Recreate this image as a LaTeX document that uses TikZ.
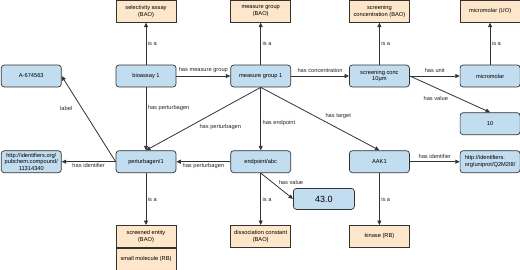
\documentclass[tikz,border=0pt]{standalone}
\usepackage{fontspec}
\setmainfont{Liberation Sans}
\usetikzlibrary{positioning,arrows.meta,calc}
\definecolor{azul}{HTML}{C2DDF0}
\definecolor{crema}{HTML}{FDE6C9}
\definecolor{borde}{HTML}{333333}

\begin{document}
\begin{tikzpicture}[x=1pt, y=1pt,
  font=\fontsize{5.7}{6.6}\selectfont,
  bloque/.style={draw=borde, fill=azul, rectangle, rounded corners=3pt,
    align=center, minimum width=60pt, minimum height=22pt, inner sep=1.5pt,
    line width=0.7pt},
  clase/.style={draw=borde, fill=crema, rectangle, align=center,
    minimum width=60pt, minimum height=22pt, inner sep=1.5pt, line width=0.7pt},
  flujo/.style={-{Triangle[length=4.5pt, width=4pt]}, draw=borde,
    line width=0.8pt},
  etiq/.style={inner sep=1.5pt, text=black!85}]
\useasboundingbox (0,0) rectangle (520,269);
% Fila superior de instancias
\node[bloque] (bio) at (146,193) {bioassay 1};
\node[bloque, left=54pt of bio] (A) {A-674563};
\node[bloque, right=54pt of bio] (mg) {measure group 1};
\node[bloque, right=58pt of mg] (conc) {screening conc\\10µm};
\node[bloque, right=50pt of conc] (micro) {micromolar};
\node[bloque, below=25pt of micro] (ten) {10};
% Clases (tipos) arriba
\node[clase, above=42pt of bio] (sel) {selectivity assay\\(BAO)};
\node[clase, above=42pt of mg] (mgc) {measure group\\(BAO)};
\node[clase, above=42pt of conc] (concc) {screening\\concentration (BAO)};
\node[clase, above=42pt of micro] (microc) {micromolar (UO)};
% Fila inferior de instancias
\node[bloque, below=63pt of bio] (pert) {perturbagen/1};
\node[bloque, left=54pt of pert] (pub)
  {http://identifiers.org/\\pubchem.compound/\\11314340};
\node[bloque, right=54pt of pert] (endp) {endpoint/abc};
\node[bloque, right=58pt of endp] (aak) {AAK1};
\node[bloque, right=50pt of aak, align=left] (uni)
  {http://identifiers.\\org/uniprot/Q2M2I8/};
\node[bloque, below right=15pt and 2pt of endp, minimum width=61pt,
  minimum height=21pt, font=\fontsize{9}{10}\selectfont] (val) {43.0};
% Clases abajo
\node[clase, below=52pt of pert] (ent) {screened entity\\(BAO)};
\node[clase, below=0pt of ent] (mol) {small molecule (RB)};
\node[clase, below=52pt of endp] (diss) {dissociation constant\\(BAO)};
\node[clase, below=52pt of aak] (kin) {kinase (RB)};
% Relaciones "is a"
\draw[flujo] (bio) -- node[etiq, right] {is a} (sel);
\draw[flujo] (mg) -- node[etiq, right] {is a} (mgc);
\draw[flujo] (conc) -- node[etiq, right] {is a} (concc);
\draw[flujo] (micro) -- node[etiq, right] {is a} (microc);
\draw[flujo] (pert) -- node[etiq, right] {is a} (ent);
\draw[flujo] (endp) -- node[etiq, right] {is a} (diss);
\draw[flujo] (aak) -- node[etiq, right] {is a} (kin);
% Propiedades
\draw[flujo] (bio) -- node[etiq, above=1.5pt] {has measure group} (mg);
\draw[flujo] (mg) -- node[etiq, above=1.5pt] {has concentration} (conc);
\draw[flujo] (conc) -- node[etiq, above=1.5pt] {has unit} (micro);
\draw[flujo] (conc.east) -- node[etiq, pos=0.5, anchor=north east] {has value}
  (ten.north);
\draw[flujo] (bio) -- node[etiq, pos=0.33, right] {has perturbagen} (pert);
\draw[flujo] (mg.south) -- node[etiq, pos=0.55, anchor=north west]
  {has perturbagen} (pert.north);
\draw[flujo] (mg) -- node[etiq, pos=0.57, right] {has endpoint} (endp);
\draw[flujo] (mg.south) -- node[etiq, pos=0.53, anchor=south west]
  {has target} (aak.north);
\draw[flujo] (pert.west) -- node[etiq, pos=0.62, left=8pt] {label} (A.east);
\draw[flujo] (pert) -- node[etiq, below] {has identifier} (pub);
\draw[flujo] (endp) -- node[etiq, below] {has perturbagen} (pert);
\draw[flujo] (endp.south) -- node[etiq, pos=0.5, anchor=south west]
  {has value} (val.west);
\draw[flujo] (aak) -- node[etiq, above=1.5pt] {has identifier} (uni);
\end{tikzpicture}
\end{document}
